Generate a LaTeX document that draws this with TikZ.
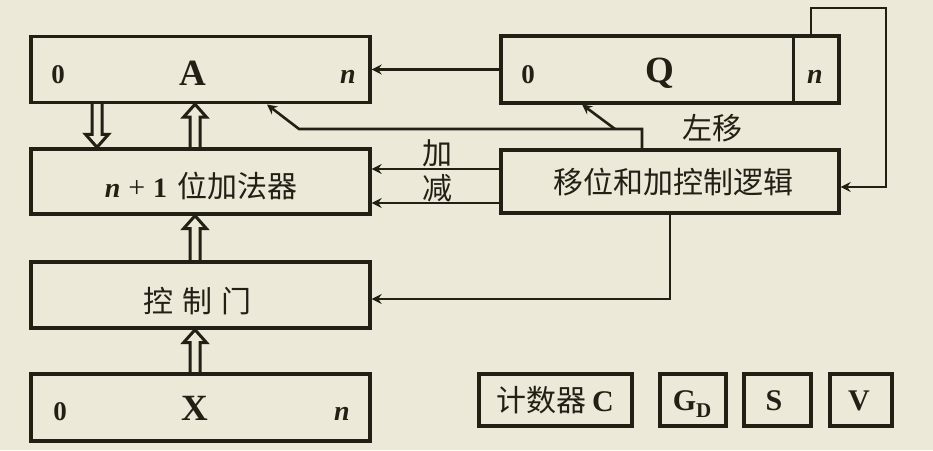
\documentclass[tikz,border=0pt]{standalone}
\usepackage{fontspec}
\setmainfont{Liberation Serif}
\newfontfamily\cjk{Noto Sans CJK SC}
\usetikzlibrary{arrows.meta,calc}
\definecolor{bg}{HTML}{ECE9D9}
\definecolor{ink}{HTML}{221F14}
\begin{document}
\begin{tikzpicture}[x=1pt,y=-1pt,
  every node/.style={text=ink, inner sep=0pt},
  box/.style={draw=ink, line width=3.4pt, inner sep=0pt},
  conn/.style={draw=ink, line width=2.6pt, -{Stealth[length=10pt,width=10pt,inset=3.5pt]}},
  hollow/.style={draw=ink, line width=3pt, to path={
    ($(\tikztostart)!5pt!90:(\tikztotarget)$) --
    ($($(\tikztotarget)!13pt!(\tikztostart)$)!5pt!90:(\tikztotarget)$) --
    ($($(\tikztotarget)!13pt!(\tikztostart)$)!11.5pt!90:(\tikztotarget)$) --
    (\tikztotarget) --
    ($($(\tikztotarget)!13pt!(\tikztostart)$)!11.5pt!-90:(\tikztotarget)$) --
    ($($(\tikztotarget)!13pt!(\tikztostart)$)!5pt!-90:(\tikztotarget)$) --
    ($(\tikztostart)!5pt!-90:(\tikztotarget)$)}},
  cjkt/.style={font=\cjk\fontsize{30}{34}\selectfont},
  numt/.style={font=\bfseries\fontsize{27}{30}\selectfont, anchor=base},
  nt/.style={font=\bfseries\itshape\fontsize{28}{30}\selectfont, anchor=base},
  bigt/.style={font=\bfseries\fontsize{37}{40}\selectfont, anchor=base},
  smallt/.style={font=\bfseries\fontsize{30}{32}\selectfont, anchor=base}]
\fill[bg] (0,0) rectangle (933,450);
\useasboundingbox (0,0) rectangle (933,450);

% boxes
\node[box, minimum width=339, minimum height=66] (A) at (200.5,69.5) {};
\node[box, minimum width=339, minimum height=65] (M) at (200.5,181.5) {};
\node[box, minimum width=339, minimum height=66] (G) at (200.5,295) {};
\node[box, minimum width=339, minimum height=67] (X) at (200.5,407.5) {};
\node[box, minimum width=338, minimum height=67] (Q) at (670,69.5) {};
\node[box, minimum width=338, minimum height=63] (L) at (670,181.5) {};
\node[box, minimum width=153, minimum height=52] (C) at (555.5,400) {};
\node[box, minimum width=66, minimum height=52] (GD) at (693,400) {};
\node[box, minimum width=67, minimum height=52] (S) at (777.5,400) {};
\node[box, minimum width=62, minimum height=52] (V) at (861,400) {};
\draw[draw=ink, line width=3.4pt] ([xshift=-47pt]Q.north east) -- ([xshift=-47pt]Q.south east);

% texts
\node[numt] (A0) at (58,83) {0};
\node[bigt] (Al) at (193,85) {A};
\node[nt] (An) at (348,83) {n};
\node[numt] (Q0) at (528,83) {0};
\node[bigt] (Ql) at (660,82) {Q};
\node[nt] (Qn) at (815,83) {n};
\node[numt] (X0) at (60,420) {0};
\node[bigt] (Xl) at (195,420) {X};
\node[nt] (Xn) at (342,420) {n};
\node[anchor=base] (Mt) at (201,197) {{\bfseries\itshape\fontsize{28}{30}\selectfont n}\hspace{8pt}{\fontsize{30}{30}\selectfont +}\hspace{8pt}{\bfseries\fontsize{28}{30}\selectfont 1}\hspace{10pt}{\cjk\fontsize{30}{34}\selectfont 位加法器}};
\node[cjkt] (Gt) at (197,301) {控\hspace{9pt}制\hspace{9pt}门};
\node[cjkt] (Lt) at (673,182) {移位和加控制逻辑};
\node[cjkt] (jia) at (437,153) {加};
\node[cjkt] (jian) at (437,188) {减};
\node[cjkt] (zy) at (712,128) {左移};
\node (Ct) at (555,400) {{\cjk\fontsize{30}{34}\selectfont 计数器}\hspace{6pt}{\bfseries\fontsize{30}{32}\selectfont C}};
\node[smallt] (GDt) at (692,410) {G\raisebox{-7pt}{\fontsize{21}{23}\selectfont D}};
\node[smallt] (St) at (774,410) {S};
\node[smallt] (Vt) at (859,410) {V};

% hollow double arrows
\coordinate (d1s) at ([xshift=-103.5pt]A.south);
\coordinate (d1t) at ([xshift=-103.5pt]M.north);
\coordinate (d2s) at ([xshift=-5.5pt]M.north);
\coordinate (d2t) at ([xshift=-5.5pt]A.south);
\coordinate (d3s) at ([xshift=-5.5pt]G.north);
\coordinate (d3t) at ([xshift=-5.5pt]M.south);
\coordinate (d4s) at ([xshift=-5.5pt]X.north);
\coordinate (d4t) at ([xshift=-5.5pt]G.south);
\draw[hollow] (d1s) to (d1t);
\draw[hollow] (d2s) to (d2t);
\draw[hollow] (d3s) to (d3t);
\draw[hollow] (d4s) to (d4t);

% single connectors
\draw[conn] (Q.west) -- (A.east);
\draw[conn] ([yshift=12.5pt]L.west) -- ([yshift=12.5pt]M.east);
\draw[conn] ([yshift=-21.5pt]L.west) -- ([yshift=-21.5pt]M.east);
\coordinate (j1) at (642,129);
\coordinate (j2) at (299,129);
\coordinate (j3) at (615,129);
\coordinate (aA) at (267,104.5);
\coordinate (aQ) at (582,104.5);
\draw[conn] (L.north -| j1) -- (j1) -- (j2) -- (aA);
\draw[conn] (j3) -- (aQ);
\coordinate (l1) at (811,8);
\coordinate (l2) at (886,8);
\coordinate (l3) at (886,187);
\draw[conn] (Q.north -| l1) -- (l1) -- (l2) -- (l3) -- (L.east |- l3);
\draw[conn] (L.south) |- ([yshift=-4pt]G.east);
\end{tikzpicture}
\end{document}
